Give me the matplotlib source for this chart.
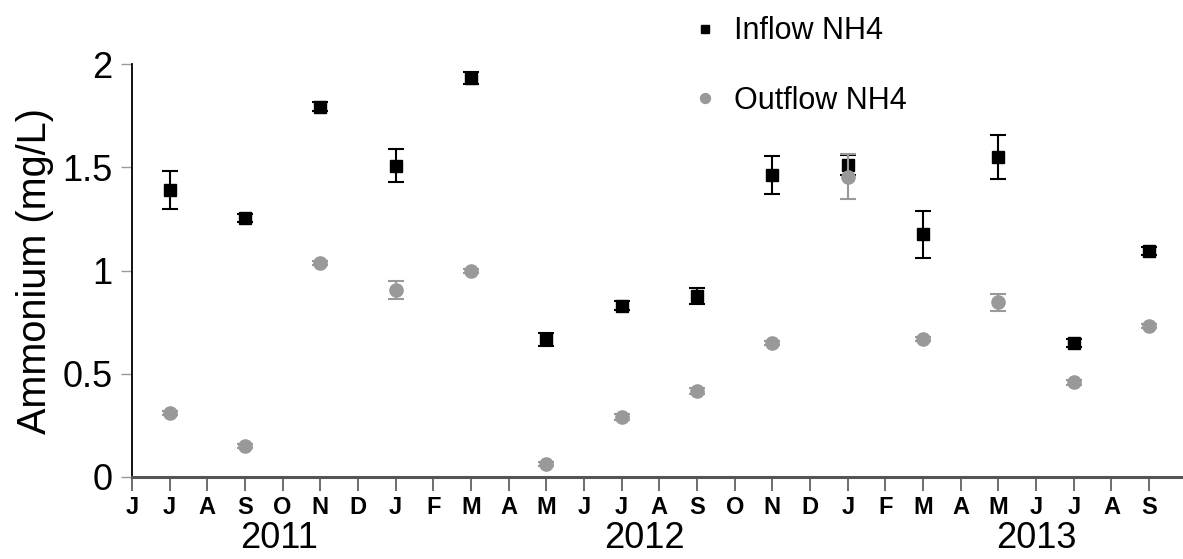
import matplotlib
matplotlib.use('Agg')
import matplotlib.pyplot as plt
import matplotlib.transforms as mtransforms
import numpy as np
from matplotlib import rcParams
rcParams['font.family'] = 'sans-serif'
rcParams['font.sans-serif'] = ['Liberation Sans', 'DejaVu Sans']

# month axis: Jun 2011 .. Sep 2013 (index 0..27)
month_labels = list('JJASONDJFMAMJJASONDJFMAMJJAS')
years = ['2011', '2012', '2013']
year_pos = [3.9, 13.6, 24.0]

# sampling months (index into month axis)
sample_idx = [1, 3, 5, 7, 9, 11, 13, 15, 17, 19, 21, 23, 25, 27]
inflow = [1.39, 1.256, 1.795, 1.509, 1.933, 0.666, 0.83, 0.876, 1.464, 1.512, 1.176, 1.552, 0.65, 1.096]
inflow_err = [0.092, 0.02, 0.02, 0.08, 0.03, 0.03, 0.02, 0.04, 0.093, 0.05, 0.114, 0.107, 0.02, 0.02]
outflow = [0.307, 0.148, 1.035, 0.905, 0.999, 0.06, 0.29, 0.415, 0.647, 1.455, 0.666, 0.846, 0.457, 0.73]
outflow_err = [0.01, 0.01, 0.01, 0.044, 0.01, 0.01, 0.015, 0.015, 0.01, 0.11, 0.01, 0.04, 0.01, 0.01]

grey = '#999999'

fig = plt.figure(figsize=(11.83, 5.59), dpi=100)
ax = fig.add_axes([132/1183, 1-476.7/559, 1-132/1183, (476.7-64.3)/559])

ax.errorbar(sample_idx, inflow, yerr=inflow_err, fmt='s', color='black', ms=8.5,
            ecolor='black', elinewidth=1.5, capsize=6, capthick=1.5, label='Inflow NH4', zorder=3)
ax.errorbar(sample_idx, outflow, yerr=outflow_err, fmt='o', color=grey, ms=9.5,
            ecolor=grey, elinewidth=1.5, capsize=6, capthick=1.5, label='Outflow NH4', zorder=4)

ax.set_xlim(0, 27.9)
ax.set_ylim(0, 2)
ax.set_yticks([0, 0.5, 1, 1.5, 2])
ax.set_yticklabels(['0', '0.5', '1', '1.5', '2'])
ax.set_xticks(range(len(month_labels)))
ax.set_xticklabels(month_labels, fontsize=17, fontweight='bold')
ax.tick_params(axis='y', labelsize=26, length=8, width=1, color='#999999', pad=6)
ax.tick_params(axis='x', length=10, width=1.2, color='#555555', pad=4)

for s in ['top', 'right']:
    ax.spines[s].set_visible(False)
ax.spines['left'].set_linewidth(1.3)
ax.spines['bottom'].set_linewidth(2.2)
ax.spines['bottom'].set_color('#555555')

ax.set_ylabel('Ammonium (mg/L)', fontsize=28.5, labelpad=6)

trans = mtransforms.blended_transform_factory(ax.transData, ax.transAxes)
for yr, xp in zip(years, year_pos):
    ax.text(xp, -0.15, yr, transform=trans, ha='center', va='center', fontsize=26)

h, l = ax.get_legend_handles_labels()
h = [hh[0] for hh in h]
fig.legend(h, l, loc='upper left', bbox_to_anchor=(674/1183, 1-1/559), frameon=False,
           fontsize=22, handlelength=1.0, handletextpad=0.45, labelspacing=1.3,
           borderpad=0, markerscale=0.75)

fig.savefig('out.png', dpi=100)
